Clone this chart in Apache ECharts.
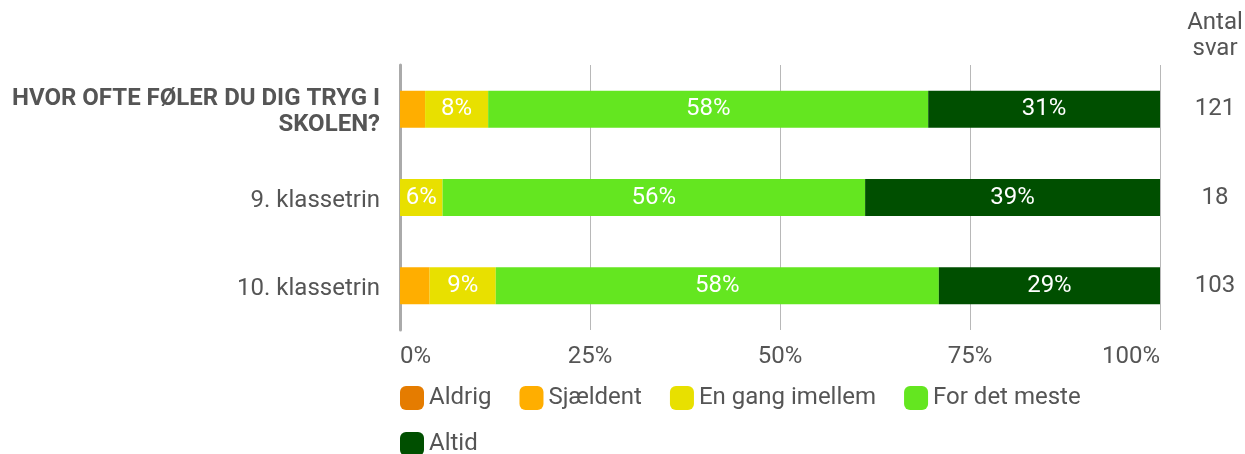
<!DOCTYPE html>
<html><head><meta charset="utf-8">
<script src="https://cdn.jsdelivr.net/npm/echarts@6/dist/echarts.min.js"></script>
<style>html,body{margin:0;padding:0;background:#fff}#c{width:1245px;height:454px}</style>
</head><body><div id="c"></div>
<script>
const categories = ['HVOR OFTE FØLER DU DIG TRYG I\nSKOLEN?', '9. klassetrin', '10. klassetrin'];
const counts = ['121', '18', '103'];
const countHeader = 'Antal\nsvar';
const seriesNames = ['Aldrig', 'Sjældent', 'En gang imellem', 'For det meste', 'Altid'];
const aldrig = [0, 0, 0];
const sjaeldent = [3.3, 0, 3.9];
const enGang = [8.3, 5.6, 8.7];
const forDetMeste = [57.9, 55.6, 58.3];
const altid = [30.6, 38.9, 29.1];
const xTicks = [0, 25, 50, 75, 100];
const colors = ['#e57c00', '#ffae00', '#e8e000', '#64e620', '#004f00'];

const values = [aldrig, sjaeldent, enGang, forDetMeste, altid];
const chart = echarts.init(document.getElementById('c'));
const font = 'Roboto';
const fs = 24;
chart.setOption({
  animation: false,
  textStyle: {fontFamily: font},
  grid: {left: 400, right: 85, top: 65, bottom: 124, containLabel: false},
  graphic: [{type: 'text', x: 1215, y: 10,
    style: {text: countHeader, textAlign: 'center', fill: '#555', fontFamily: font, fontSize: fs, lineHeight: 26}}],
  legend: [
    {data: seriesNames.slice(0, 4), left: 400, top: 386, padding: 0, itemWidth: 24, itemHeight: 24, itemGap: 28,
     icon: 'roundRect', textStyle: {fontFamily: font, fontSize: fs, color: '#555'}},
    {data: seriesNames.slice(4), left: 400, top: 432, padding: 0, itemWidth: 24, itemHeight: 24, itemGap: 28,
     icon: 'roundRect', textStyle: {fontFamily: font, fontSize: fs, color: '#555'}}
  ],
  xAxis: {type: 'value', min: 0, max: 100, interval: 25,
    axisLabel: {formatter: v => v + '%', fontSize: fs, color: '#555', margin: 15, fontFamily: font,
      alignMinLabel: 'left', alignMaxLabel: 'right'},
    splitLine: {lineStyle: {color: '#b8b8b8', width: 1}},
    axisLine: {show: false}, axisTick: {show: false}},
  yAxis: [
    {type: 'category', data: categories, inverse: true,
     axisLine: {show: true, lineStyle: {color: '#aaaaaa', width: 3}}, axisTick: {show: false},
     axisLabel: {margin: 20, fontSize: fs, color: '#555', fontFamily: font, padding: [6, 0, 0, 0],
       formatter: (v, i) => i === 0 ? '{b|' + v + '}' : v,
       rich: {b: {fontWeight: 'bold', fontSize: fs, color: '#555', lineHeight: 26, align: 'right', fontFamily: font}}}},
    {type: 'category', data: counts, inverse: true, position: 'right',
     axisLine: {show: false}, axisTick: {show: false},
     axisLabel: {margin: 55, align: 'center', fontSize: fs, color: '#555', fontFamily: font, padding: [6, 0, 0, 0]}}
  ],
  series: seriesNames.map((n, k) => ({
    name: n, type: 'bar', stack: 'all', data: values[k], barWidth: 37,
    itemStyle: {color: colors[k]},
    label: {show: true, position: 'inside', color: '#fff', fontSize: fs, fontFamily: font, padding: [5, 0, 0, 0],
      formatter: p => p.value >= 5 ? Math.round(p.value) + '%' : ''}
  }))
});
</script></body></html>
